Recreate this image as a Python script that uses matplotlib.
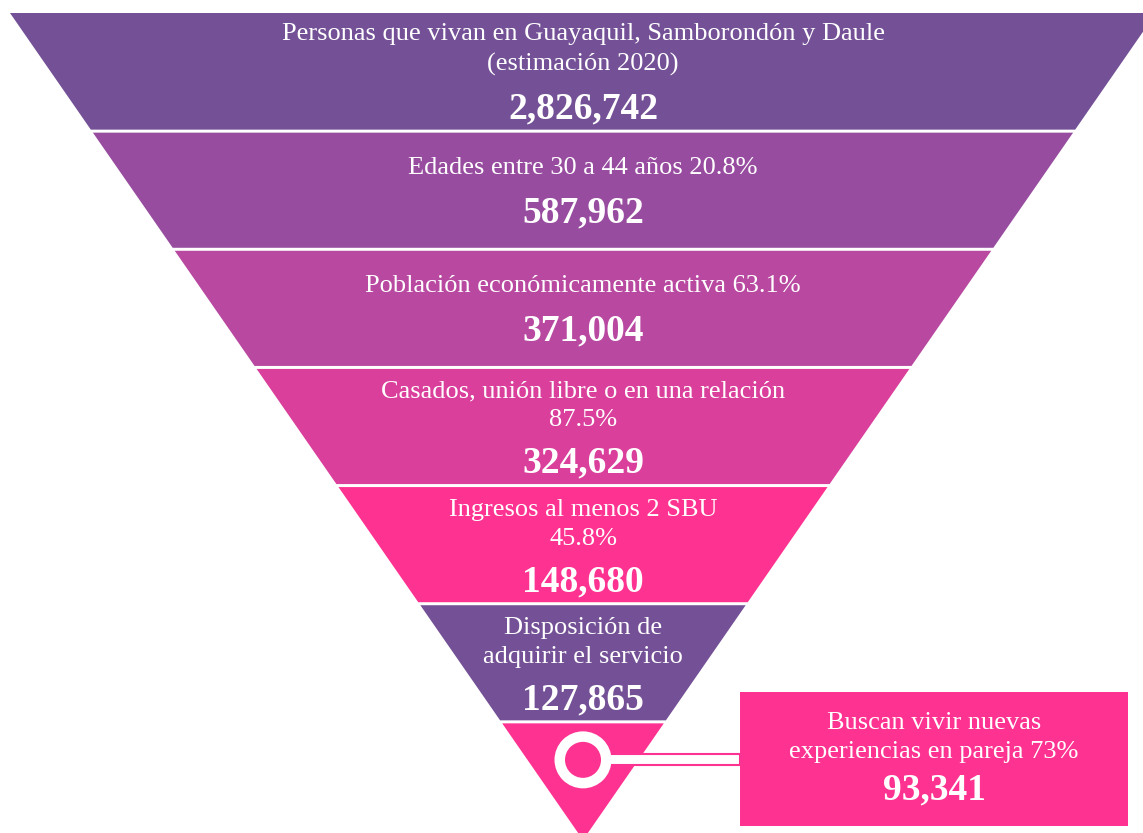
import matplotlib.pyplot as plt
from matplotlib.patches import Polygon, Rectangle, Circle

# datos del embudo
etiquetas = [
    "Personas que vivan en Guayaquil, Samborondón y Daule\n(estimación 2020)",
    "Edades entre 30 a 44 años 20.8%",
    "Población económicamente activa 63.1%",
    "Casados, unión libre o en una relación\n87.5%",
    "Ingresos al menos 2 SBU\n45.8%",
    "Disposición de\nadquirir el servicio",
]
valores = ["2,826,742", "587,962", "371,004", "324,629", "148,680", "127,865"]
colores = ["#745196", "#974c9f", "#b848a0", "#d93f9b", "#fe3291", "#745196", "#fe3291"]
etiqueta_final = "Buscan vivir nuevas\nexperiencias en pareja 73%"
valor_final = "93,341"

W, H = 1143, 833
fig = plt.figure(figsize=(W / 100, H / 100), dpi=100)
ax = fig.add_axes([0, 0, 1, 1])
ax.set_xlim(0, W)
ax.set_ylim(H, 0)
ax.axis("off")

# geometría del triángulo invertido (el vértice queda un poco fuera)
cx, top, apex = 583, 13, 840
half_top = 573
n = len(colores)
alto = (apex - top) / n
gap = 3
fuente = "Liberation Serif"
paso = 29


def half_w(y):
    return half_top * (apex - y) / (apex - top)


for i, c in enumerate(colores):
    y0 = top + i * alto + (gap / 2 if i > 0 else 0)
    y1 = top + (i + 1) * alto - (gap / 2 if i < n - 1 else 0)
    pts = [(cx - half_w(y0), y0), (cx + half_w(y0), y0),
           (cx + half_w(y1), y1), (cx - half_w(y1), y1)]
    ax.add_patch(Polygon(pts, closed=True, facecolor=c, edgecolor="none"))


def texto(x, y, s, **kw):
    ax.text(x, y, s, ha="center", va="center", color="white", family=fuente,
            zorder=6, **kw)


for i, (et, v) in enumerate(zip(etiquetas, valores)):
    y0 = top + i * alto
    lineas = et.split("\n")
    if len(lineas) == 1:
        texto(cx, y0 + 37, lineas[0], fontsize=19)
        texto(cx, y0 + 82, v, fontsize=27, fontweight="bold")
    else:
        inicio = y0 + (21 if i == 0 else 24)
        for k, l in enumerate(lineas):
            texto(cx, inicio + k * (paso + 1 if i == 0 else paso), l, fontsize=19)
        texto(cx, y0 + 96, v, fontsize=27, fontweight="bold")

# último segmento: círculo, conector y caja
yc = top + (n - 1) * alto + 38
bx0, bx1, by0, by1 = 740, 1128, 692, 826
ax.add_patch(Rectangle((605, yc - 5.5), bx0 - 605, 11, facecolor="white",
                       edgecolor=colores[-1], linewidth=1.5, zorder=3))
ax.add_patch(Circle((cx, yc), 28.5, facecolor="white", edgecolor="none", zorder=4))
ax.add_patch(Circle((cx, yc), 18, facecolor=colores[-1], edgecolor="none", zorder=5))
ax.add_patch(Rectangle((bx0, by0), bx1 - bx0, by1 - by0, facecolor=colores[-1],
                       edgecolor="none", zorder=4))
bc = (bx0 + bx1) / 2
for k, l in enumerate(etiqueta_final.split("\n")):
    texto(bc, by0 + 31 + k * paso, l, fontsize=19)
texto(bc, by0 + 98, valor_final, fontsize=27, fontweight="bold")

fig.savefig("out.png", dpi=100)
